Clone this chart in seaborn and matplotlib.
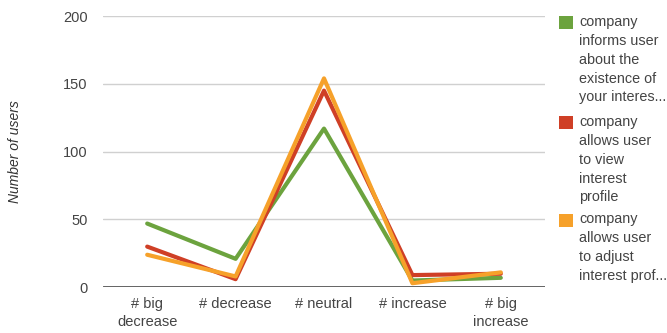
import matplotlib
matplotlib.use("Agg")
import matplotlib.pyplot as plt
import seaborn as sns
import pandas as pd
from matplotlib.patches import Rectangle

categories = ["# big\ndecrease", "# decrease", "# neutral", "# increase", "# big\nincrease"]
series_names = [
    "company\ninforms user\nabout the\nexistence of\nyour interes...",
    "company\nallows user\nto view\ninterest\nprofile",
    "company\nallows user\nto adjust\ninterest prof...",
]
informs = [47, 21, 117, 5, 7]
view = [30, 6, 145, 9, 10]
adjust = [24, 8, 154, 3, 11]
colors = ["#6ca33e", "#cf3f26", "#f6a12a"]
y_ticks = [0, 50, 100, 150, 200]

rows = []
for name, vals in zip(series_names, [informs, view, adjust]):
    for c, v in zip(categories, vals):
        rows.append({"category": c, "value": v, "series": name})
df = pd.DataFrame(rows)

sns.set_style("white")
plt.rcParams["font.family"] = ["Liberation Sans", "DejaVu Sans"]

W, H = 667, 333
fig = plt.figure(figsize=(6.67, 3.33), dpi=100)
ax = fig.add_axes([103/W, 1-287.3/H, (545-103)/W, (287.3-16)/H])

for y in y_ticks[1:]:
    ax.axhline(y, color="#d0d0d0", lw=1, zorder=0)

sns.lineplot(data=df, x="category", y="value", hue="series", hue_order=series_names,
             palette=colors, sort=False, lw=3, ax=ax, legend=False, zorder=3)
ax.axhline(0, color="#555555", lw=2, zorder=2)

ax.set_xlim(-0.5, 4.5)
ax.set_ylim(0, 200)
ax.set_yticks(y_ticks)
ax.set_yticklabels([str(t) for t in y_ticks])
for s in ax.spines.values():
    s.set_visible(False)
ax.tick_params(axis="both", length=0, labelsize=10.5, labelcolor="#444444")
ax.tick_params(axis="y", pad=11)
ax.tick_params(axis="x", pad=7)
for t in ax.get_xticklabels():
    t.set_linespacing(1.35)
ax.set_xlabel("")
ax.set_ylabel("")
fig.text(15/W, 1-152/H, "Number of users", rotation=90, style="italic",
         fontsize=10, color="#333333", ha="center", va="center")

# legend drawn manually
first_line_centers = [22.7, 122.7, 220.0]
for name, c, yc in zip(series_names, colors, first_line_centers):
    fig.patches.append(Rectangle((559/W, 1-(yc+6.5)/H), 13.5/W, 13/H,
                                 transform=fig.transFigure, facecolor=c,
                                 edgecolor="none", figure=fig))
    fig.text(579/W, 1-(yc-8)/H, name, fontsize=10.4, color="#444444",
             ha="left", va="top", linespacing=1.45)

fig.savefig("out.png", dpi=100)
